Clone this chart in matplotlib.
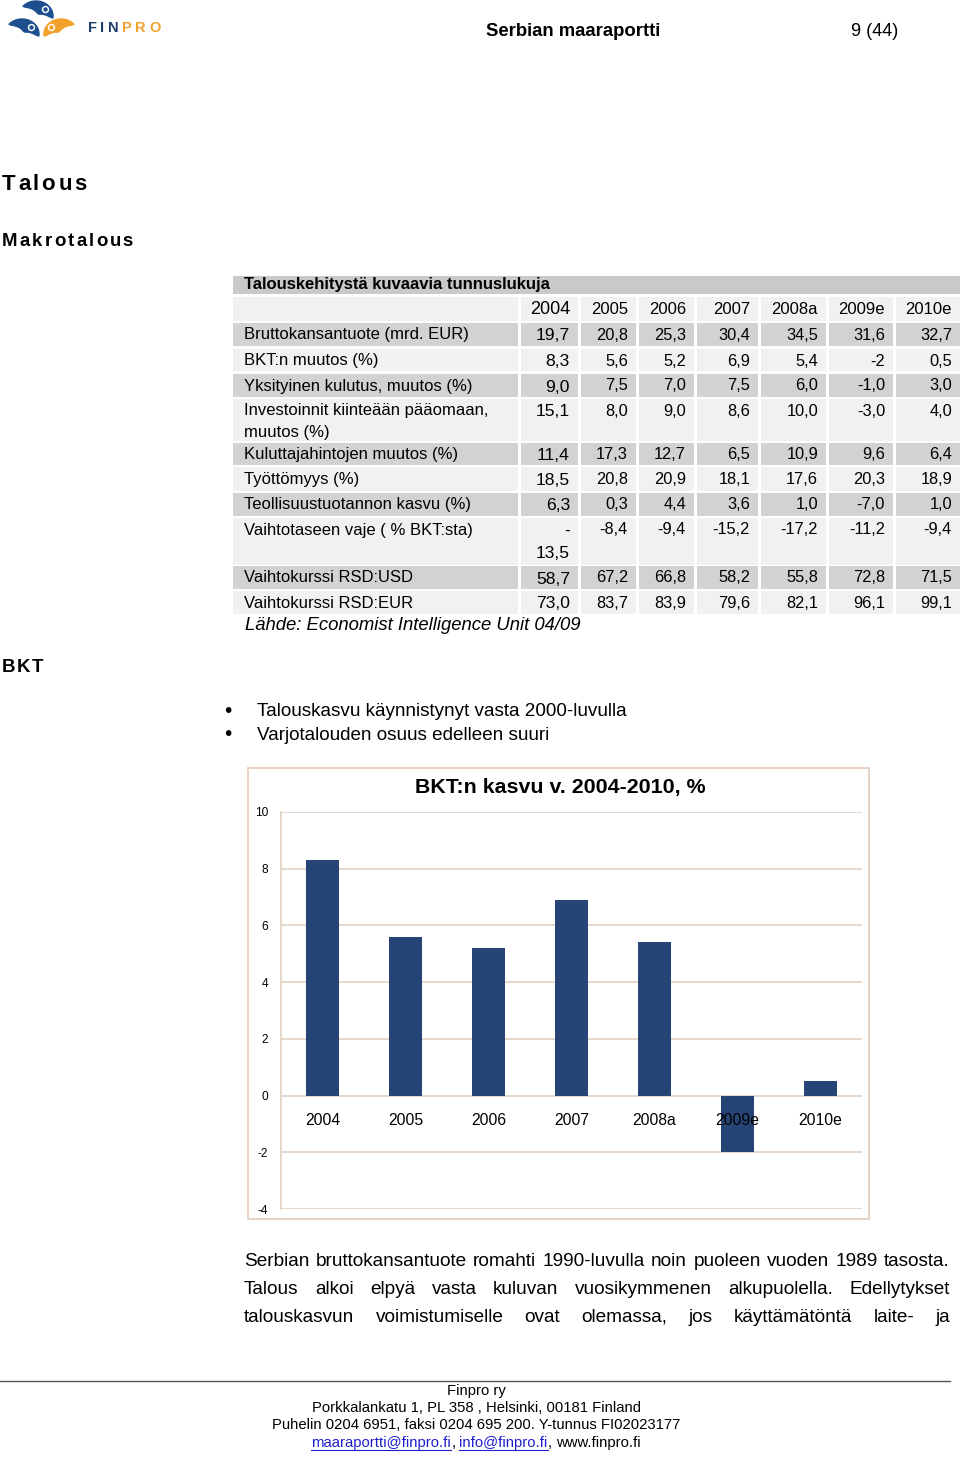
import matplotlib
matplotlib.use('Agg')
import numpy as np
import matplotlib.pyplot as plt
from matplotlib import font_manager
from matplotlib.patches import Rectangle, Circle, Polygon
from matplotlib.lines import Line2D

# --- data ---
years = ['2004', '2005', '2006', '2007', '2008a', '2009e', '2010e']
gdp_growth = [8.3, 5.6, 5.2, 6.9, 5.4, -2, 0.5]

row_labels = ['Bruttokansantuote (mrd. EUR)', 'BKT:n muutos (%)',
              'Yksityinen kulutus, muutos (%)',
              'Investoinnit kiinteään pääomaan,\nmuutos (%)',
              'Kuluttajahintojen muutos (%)', 'Työttömyys (%)',
              'Teollisuustuotannon kasvu (%)', 'Vaihtotaseen vaje ( % BKT:sta)',
              'Vaihtokurssi RSD:USD', 'Vaihtokurssi RSD:EUR']
bkt_eur = ['19,7', '20,8', '25,3', '30,4', '34,5', '31,6', '32,7']
bkt_change = ['8,3', '5,6', '5,2', '6,9', '5,4', '-2', '0,5']
private_cons = ['9,0', '7,5', '7,0', '7,5', '6,0', '-1,0', '3,0']
investment = ['15,1', '8,0', '9,0', '8,6', '10,0', '-3,0', '4,0']
cpi = ['11,4', '17,3', '12,7', '6,5', '10,9', '9,6', '6,4']
unemployment = ['18,5', '20,8', '20,9', '18,1', '17,6', '20,3', '18,9']
industry = ['6,3', '0,3', '4,4', '3,6', '1,0', '-7,0', '1,0']
current_acc = ['-\n13,5', '-8,4', '-9,4', '-15,2', '-17,2', '-11,2', '-9,4']
rsd_usd = ['58,7', '67,2', '66,8', '58,2', '55,8', '72,8', '71,5']
rsd_eur = ['73,0', '83,7', '83,9', '79,6', '82,1', '96,1', '99,1']
table_values = [bkt_eur, bkt_change, private_cons, investment, cpi,
                unemployment, industry, current_acc, rsd_usd, rsd_eur]

bullets = ['Talouskasvu käynnistynyt vasta 2000-luvulla',
           'Varjotalouden osuus edelleen suuri']
paragraph = ['Serbian bruttokansantuote romahti 1990-luvulla noin puoleen vuoden 1989 tasosta.',
             'Talous alkoi elpyä vasta kuluvan vuosikymmenen alkupuolella. Edellytykset',
             'talouskasvun voimistumiselle ovat olemassa, jos käyttämätöntä laite- ja']
footer = ['Finpro ry', 'Porkkalankatu 1, PL 358 , Helsinki, 00181 Finland',
          'Puhelin 0204 6951, faksi 0204 695 200. Y-tunnus FI02023177']

# --- fonts ---
names = {f.name for f in font_manager.fontManager.ttflist}
REG = 'Liberation Sans'
if 'Liberation Sans Narrow' in names:
    NAR, NS = 'Liberation Sans Narrow', 1 / 0.82
else:
    NAR, NS = 'Liberation Sans', 1.0
plt.rcParams['font.family'] = [REG, 'DejaVu Sans']

W, H = 960, 1458
fig = plt.figure(figsize=(9.6, 14.58), dpi=100)
rend = fig.canvas.get_renderer()


def T(x, y, s, **kw):
    kw.setdefault('va', 'center')
    return fig.text(x / W, 1 - y / H, s, **kw)


def box(x0, y0, x1, y1, color):
    fig.add_artist(Rectangle((x0 / W, 1 - y1 / H), (x1 - x0) / W, (y1 - y0) / H,
                             transform=fig.transFigure, facecolor=color,
                             edgecolor='none', zorder=0))


def width(t):
    return t.get_window_extent(rend).width


def measure(s, **kw):
    t = T(0, -100, s, ha='left', **kw)
    w = width(t)
    t.remove()
    return w


def spaced(x, y, s, gap, colors=None, **kw):
    # place each letter at the advance of its prefix plus extra tracking
    for i, ch in enumerate(s):
        off = measure(s[:i], **kw) if i else 0
        c = colors[i] if colors else 'black'
        T(x + off + i * gap, y, ch, ha='left', color=c, **kw)


def justify(x0, x1, y, line, **kw):
    words = line.split()
    ts = [T(x0, y, w, ha='left', **kw) for w in words]
    ws = [width(t) for t in ts]
    gap = (x1 - x0 - sum(ws)) / (len(words) - 1)
    x = x0
    for t, w in zip(ts, ws):
        t.set_x(x / W)
        x += w + gap


# --- logo ---
lg = fig.add_axes([0, 1 - 44 / H, 84 / W, 44 / H])
lg.set_xlim(0, 84)
lg.set_ylim(0, 44)
lg.axis('off')
blue, orange = '#1d4f8f', '#f2a22a'


def bird(cx, cy, color, flip=1):
    t = np.radians(np.linspace(-8, 140, 50))
    u = (t - t[0]) / (t[-1] - t[0])
    th = 13 * np.sin(np.pi * u) ** 0.6 * (1.15 - 0.4 * u)
    ox, oy = 17 * np.cos(t), 15 * np.sin(t)
    ix, iy = (17 - th) * np.cos(t), (15 - th) * np.sin(t)
    xs = np.concatenate([ox, ix[::-1]]) * flip + cx
    ys = np.concatenate([oy, iy[::-1]]) + cy
    lg.add_patch(Polygon(np.column_stack([xs, ys]), closed=True, color=color))
    ex, ey = cx + flip * 9.5, cy + 6.5
    lg.add_patch(Circle((ex, ey), 3.0, color='white'))
    lg.add_patch(Circle((ex, ey), 1.5, color=color))


bird(36, 28, blue)
bird(22, 10, blue)
bird(61, 10, orange, flip=-1)
spaced(88, 28, 'FINPRO', 3.4, colors=['#1f3c6e'] * 3 + [orange] * 3,
       fontsize=10.5, fontweight='bold')

# --- page header ---
T(486, 31, 'Serbian maaraportti', ha='left', fontsize=13.3, fontweight='bold')
T(898, 31, '9 (44)', ha='right', fontsize=13)

spaced(2, 185, 'Talous', 3.0, fontsize=16, fontweight='bold')
spaced(2, 242, 'Makrotalous', 2.2, fontsize=13.4, fontweight='bold')
spaced(2, 668, 'BKT', 1.6, fontsize=13.4, fontweight='bold')

# --- table ---
label_cell = (233, 518)
col_cells = [(521, 578), (581, 636), (639, 694), (697, 758), (761, 826),
             (829, 893), (896, 960)]
row_spans = [(323, 346), (349, 371), (374, 397), (399, 441), (443, 465),
             (467, 491), (493, 516), (518, 565), (566, 589), (591, 614)]
dark, light = '#d2d2d2', '#f1f1f1'

box(233, 276, 960, 294, '#c9c9c9')
T(244, 285, 'Talouskehitystä kuvaavia tunnuslukuja', ha='left',
  family=NAR, fontsize=12 * NS, fontweight='bold')

box(label_cell[0], 297, label_cell[1], 321, light)
for i, ((c0, c1), yr) in enumerate(zip(col_cells, years)):
    box(c0, 297, c1, 321, light)
    T(c1 - 8, 310, yr, ha='right', family=NAR,
      fontsize=(13 if i == 0 else 12) * NS)

for r, ((y0, y1), lab, vals) in enumerate(zip(row_spans, row_labels, table_values)):
    col = dark if r % 2 == 0 else light
    box(label_cell[0], y0, label_cell[1], y1, col)
    for k, line in enumerate(lab.split('\n')):
        T(244, y0 + 12 + 21 * k, line, ha='left', family=NAR, fontsize=12 * NS)
    for i, ((c0, c1), v) in enumerate(zip(col_cells, vals)):
        box(c0, y0, c1, y1, col)
        step = 23 if i == 0 else 21
        for k, line in enumerate(v.split('\n')):
            T(c1 - 8, y0 + 12 + step * k + (1 if i == 0 else 0), line, ha='right',
              family=NAR, fontsize=(12.6 if i == 0 else 11.8) * NS)

T(245, 626, 'Lähde: Economist Intelligence Unit 04/09', ha='left', family=NAR,
  fontsize=13.3 * NS, style='italic')

# --- bullets ---
for k, b in enumerate(bullets):
    y = 712 + 23 * k
    T(228, y, '•', ha='center', fontsize=15)
    T(257, y, b, ha='left', fontsize=13.6)

# --- bar chart ---
box(247, 767, 870, 1220, '#e6d3c5')
box(249, 769, 868, 1218, 'white')
ax = fig.add_axes([281 / W, 1 - 1209 / H, (862 - 281) / W, (1209 - 812) / H])
xs = list(range(len(years)))
ax.bar(xs, gdp_growth, width=0.4, color='#264476', zorder=2)
ax.set_xlim(-0.5, 6.5)
ax.set_ylim(-4, 10)
ax.set_yticks(range(-4, 11, 2))
ax.set_yticklabels([str(v) for v in range(-4, 11, 2)], fontsize=8.6)
ax.tick_params(axis='y', length=0, pad=9)
ax.set_xticks([])
ax.grid(axis='y', color='#e0cfc0', linewidth=1.2, zorder=0)
for s in ['top', 'right', 'bottom']:
    ax.spines[s].set_visible(False)
ax.spines['left'].set_color('#e0cfc0')
ax.spines['left'].set_linewidth(1.2)
ax.set_facecolor('none')
for x, yr in zip(xs, years):
    ax.annotate(yr, (x, 0), xytext=(0, -18), textcoords='offset points',
                ha='center', va='center', family=NAR, fontsize=11.3 * NS, zorder=3)
T(560, 787, 'BKT:n kasvu v. 2004-2010, %', ha='center', family=NAR,
  fontsize=15.4 * NS, fontweight='bold')

# --- paragraph: font sized so the first line fills the column naturally ---
base = 12.0 * NS
psize = base * 704 / measure(paragraph[0], family=NAR, fontsize=base)
for k, line in enumerate(paragraph):
    justify(244, 950, 1261 + 28 * k, line, family=NAR, fontsize=psize)

# --- footer ---
fig.add_artist(Line2D([0, 950 / W], [1 - 1381 / H] * 2, transform=fig.transFigure,
                      color='#555555', linewidth=1))
for k, line in enumerate(footer):
    T(476, 1391 + 17 * k, line, ha='center', family=NAR, fontsize=10.7 * NS)

link_blue = '#1f1fd0'
fkw = dict(family=NAR, fontsize=10.7 * NS)
sp = measure('x x', **fkw) - measure('xx', **fkw)
pieces = [('maaraportti@finpro.fi', link_blue), (',', 'black'), (None, None),
          ('info@finpro.fi', link_blue), (',', 'black'), (None, None),
          ('www.finpro.fi', 'black')]
placed = []
for s, c in pieces:
    if s is None:
        placed.append((None, sp, c))
    else:
        t = T(0, 1443, s, ha='left', color=c, **fkw)
        placed.append((t, width(t), c))
x = 476 - sum(w for _, w, _ in placed) / 2
for t, w, c in placed:
    if t is not None:
        t.set_x(x / W)
        if c == link_blue:
            fig.add_artist(Line2D([x / W, (x + w) / W], [1 - 1450 / H] * 2,
                                  transform=fig.transFigure, color=link_blue,
                                  linewidth=0.8))
    x += w

fig.savefig('out.png', dpi=100)
